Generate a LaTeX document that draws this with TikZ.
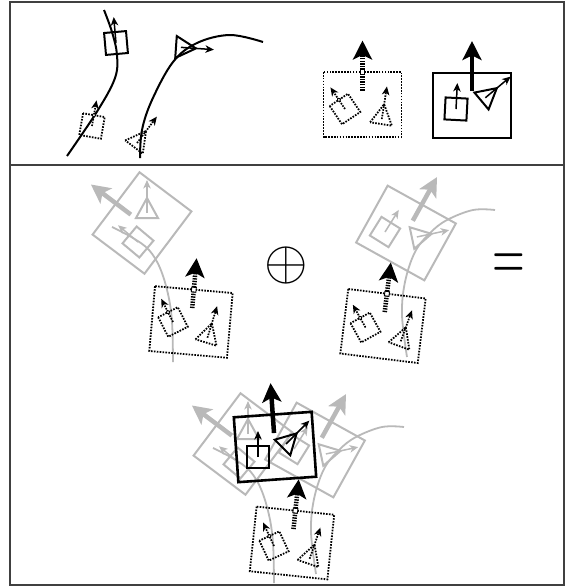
\documentclass[tikz,border=0pt]{standalone}
\usepackage{graphicx}
\usepackage{tikz}
\usetikzlibrary{arrows.meta}

\tikzset{
  outline/.style={line width=2pt},
  shaft/.style={line width=4.5pt},
  pointer/.style={line width=1.5pt, -{Stealth[length=8.5pt,width=7.5pt,inset=2.5pt]}},
  bigtip/.style={-{Stealth[length=19pt,width=19pt,inset=4.5pt]}},
  marker/.style={draw=none},
  track/.style={line width=2pt},
  panel/.style={line width=2pt, black!75},
  % states of the robot team
  prev/.style={black,
    outline/.style={line width=1.8pt, dash pattern=on 1.6pt off 1.3pt},
    shaft/.style={line width=4.5pt, dash pattern=on 1.4pt off 1.2pt},
    pointer/.style={line width=1.7pt, dash pattern=on 1.6pt off 1.2pt, -{Stealth[length=8.5pt,width=7.5pt,inset=2.5pt]}},
    marker/.style={draw, solid, line width=0.9pt, fill=white}},
  curr/.style={black},
  ghost/.style={gray!55, outline/.style={line width=2pt}, track/.style={line width=1.8pt}},
  % shapes
  chassis/.pic={
    \draw[outline] (-39,-32.5) rectangle (39,32.5);
    \draw[shaft, bigtip] (0,-14) -- (0,-64);
    \draw[marker] (-2.3,-34.8) rectangle (2.3,-30.2);
  },
  sqagent/.pic={
    \draw[outline] (-11,-11) rectangle (11,11);
    \draw[pointer] (0,0) -- (0,-26);
    \draw[marker] (0,-11) circle[radius=1.9pt];
  },
  triagent/.pic={
    \draw[outline] (-11,0) -- (0,-20) -- (11,0) -- cycle;
    \draw[pointer] (0,-5) -- (0,-38);
  },
  ghostleft/.pic={
    \draw[ghost, track] plot[smooth, tension=0.6] coordinates {(173,362) (172,322) (168,294) (160,268) (149,250) (133,238) (112,227)};
    \pic[ghost, rotate=53] at (142,223) {chassis};
    \pic[ghost] at (147,218) {triagent};
    \pic[ghost, rotate=50] at (138,242) {sqagent};
  },
  ghostright/.pic={
    \draw[ghost, track] plot[smooth, tension=0.6] coordinates {(407,357) (402,315) (405,282) (415,252) (430,233) (447,220) (473,210) (495,210)};
    \pic[ghost, rotate=-29] at (406,233) {chassis};
    \pic[ghost, rotate=-32] at (385,232) {sqagent};
    \pic[ghost, rotate=-78] at (412,238) {triagent};
  }
}

\begin{document}
\begin{tikzpicture}[x=1pt, y=-1pt]
  \useasboundingbox (0,0) rectangle (567,587);

  % panels
  \draw[panel] (10,2) rectangle (564,585);
  \draw[panel] (10,165) -- (564,165);

  % top left: two agents on their paths
  \draw[track] plot[smooth, tension=0.6] coordinates {(67,156) (98,110) (115,78) (117,55) (112,32) (104,10)};
  \pic[prev, rotate=-10] at (92,126) {sqagent};
  \pic[curr, rotate=5] at (116,43) {sqagent};

  \draw[track] plot[smooth, tension=0.6] coordinates {(140,158) (142,130) (152,100) (173,62) (197,43) (230,35) (263,42)};
  \pic[prev, rotate=-37] at (134,147) {triagent};
  \pic[curr, rotate=-94] at (176,47) {triagent};

  % top right: team before and after
  \pic[prev] at (362.5,104.5) {chassis};
  \pic[prev, rotate=34] at (345,109) {sqagent};
  \pic[prev, rotate=-9] at (381,124) {triagent};

  \pic[curr] at (472,105) {chassis};
  \pic[curr, rotate=-3] at (456,109) {sqagent};
  \pic[curr, rotate=-50] at (481.5,101) {triagent};

  % middle row, left term
  \pic at (0,0) {ghostleft};
  \pic[prev, rotate=-5] at (191,322) {chassis};
  \pic[prev, rotate=27] at (173,322) {sqagent};
  \pic[prev, rotate=-17] at (206,342.5) {triagent};

  \node (oplus) at (286,265) {\scalebox{5.6}{$\oplus$}};

  % middle row, right term
  \pic at (0,0) {ghostright};
  \pic[prev, rotate=-7] at (383,326) {chassis};
  \pic[prev, rotate=29] at (365.5,327.5) {sqagent};
  \pic[prev, rotate=-20] at (399,346) {triagent};

  \node (equals) at (509,267) {\scalebox{4.2}[7]{$=$}};

  % bottom: the sum
  \pic at (101,221) {ghostleft};
  \pic at (-91,217) {ghostright};
  \pic[prev, rotate=-6] at (292,543) {chassis};
  \pic[prev, rotate=25] at (274,546) {sqagent};
  \pic[prev, rotate=-19] at (308,563.5) {triagent};

  \pic[curr, outline/.style={line width=2.6pt}, rotate=4] at (275,447) {chassis};
  \pic[curr] at (258,457) {sqagent};
  \pic[curr, rotate=-45] at (282.5,447.5) {triagent};
\end{tikzpicture}
\end{document}
